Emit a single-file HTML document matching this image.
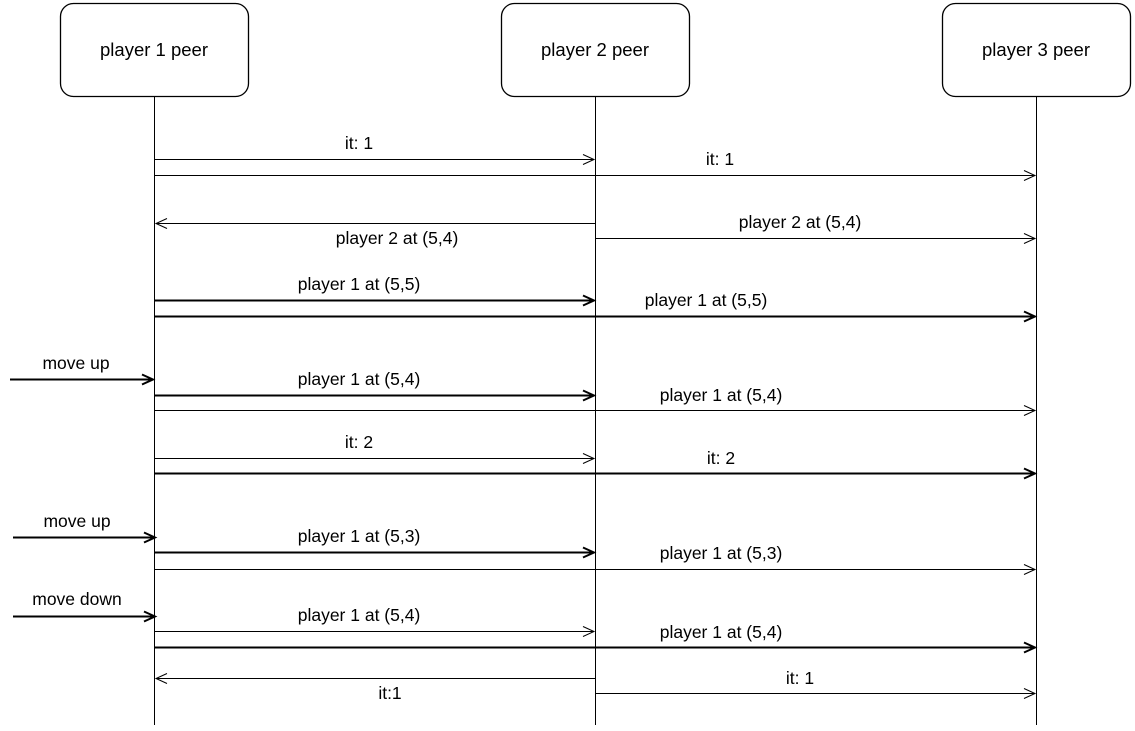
<!DOCTYPE html>
<html><head><meta charset="utf-8"><style>
html,body{margin:0;padding:0;background:#fff;}
svg{display:block;}
text{font-family:"Liberation Sans",Arial,sans-serif;font-size:17.5px;fill:#000;text-anchor:middle;}
text.h{font-size:18.5px;}
</style></head><body>
<svg width="1135" height="731" viewBox="0 0 1135 731" xmlns="http://www.w3.org/2000/svg">
<g fill="#fff" stroke="#000" stroke-width="1.3">
<rect x="60.5" y="3.5" width="188" height="93" rx="13"/>
<rect x="501.5" y="3.5" width="188" height="93" rx="13"/>
<rect x="942.5" y="3.5" width="188" height="93" rx="13"/>
</g>
<text class="h" x="154" y="56">player 1 peer</text>
<text class="h" x="595" y="56">player 2 peer</text>
<text class="h" x="1036" y="56">player 3 peer</text>
<g stroke="#000" stroke-width="1">
<line x1="154.5" y1="97" x2="154.5" y2="725"/>
<line x1="595.5" y1="97" x2="595.5" y2="725"/>
<line x1="1036.5" y1="97" x2="1036.5" y2="725"/>
</g>
<g stroke="#000" fill="none">
<path d="M154 159.5H594M583 154.5L594 159.5L583 164.5" stroke-width="1"/>
<path d="M154 175.5H1035M1024 170.5L1035 175.5L1024 180.5" stroke-width="1"/>
<path d="M595 223.5H156M167 218.5L156 223.5L167 228.5" stroke-width="1"/>
<path d="M595 238.5H1035M1024 233.5L1035 238.5L1024 243.5" stroke-width="1"/>
<path d="M154 300.5H594M583 295.5L594 300.5L583 305.5" stroke-width="2"/>
<path d="M154 316.5H1035M1024 311.5L1035 316.5L1024 321.5" stroke-width="2"/>
<path d="M10 379.5H153M142 374.5L153 379.5L142 384.5" stroke-width="2"/>
<path d="M154 395.5H594M583 390.5L594 395.5L583 400.5" stroke-width="2"/>
<path d="M154 410.5H1035M1024 405.5L1035 410.5L1024 415.5" stroke-width="1"/>
<path d="M154 458.5H594M583 453.5L594 458.5L583 463.5" stroke-width="1"/>
<path d="M154 473.5H1035M1024 468.5L1035 473.5L1024 478.5" stroke-width="2"/>
<path d="M13 537.5H155M144 532.5L155 537.5L144 542.5" stroke-width="2"/>
<path d="M154 552.5H594M583 547.5L594 552.5L583 557.5" stroke-width="2"/>
<path d="M154 569.5H1035M1024 564.5L1035 569.5L1024 574.5" stroke-width="1"/>
<path d="M13 616.5H155M144 611.5L155 616.5L144 621.5" stroke-width="2"/>
<path d="M154 631.5H594M583 626.5L594 631.5L583 636.5" stroke-width="1"/>
<path d="M154 647.5H1035M1024 642.5L1035 647.5L1024 652.5" stroke-width="2"/>
<path d="M595 678.5H156M167 673.5L156 678.5L167 683.5" stroke-width="1"/>
<path d="M595 693.5H1035M1024 688.5L1035 693.5L1024 698.5" stroke-width="1"/>
</g>
<text x="359" y="149">it: 1</text>
<text x="720" y="165">it: 1</text>
<text x="397" y="244">player 2 at (5,4)</text>
<text x="800" y="228">player 2 at (5,4)</text>
<text x="359" y="290">player 1 at (5,5)</text>
<text x="706" y="306">player 1 at (5,5)</text>
<text x="76" y="369">move up</text>
<text x="359" y="385">player 1 at (5,4)</text>
<text x="721" y="401">player 1 at (5,4)</text>
<text x="359" y="448">it: 2</text>
<text x="721" y="464">it: 2</text>
<text x="77" y="527">move up</text>
<text x="359" y="542">player 1 at (5,3)</text>
<text x="721" y="559">player 1 at (5,3)</text>
<text x="77" y="605">move down</text>
<text x="359" y="621">player 1 at (5,4)</text>
<text x="721" y="638">player 1 at (5,4)</text>
<text x="390" y="699">it:1</text>
<text x="800" y="684">it: 1</text>
</svg>
</body></html>
